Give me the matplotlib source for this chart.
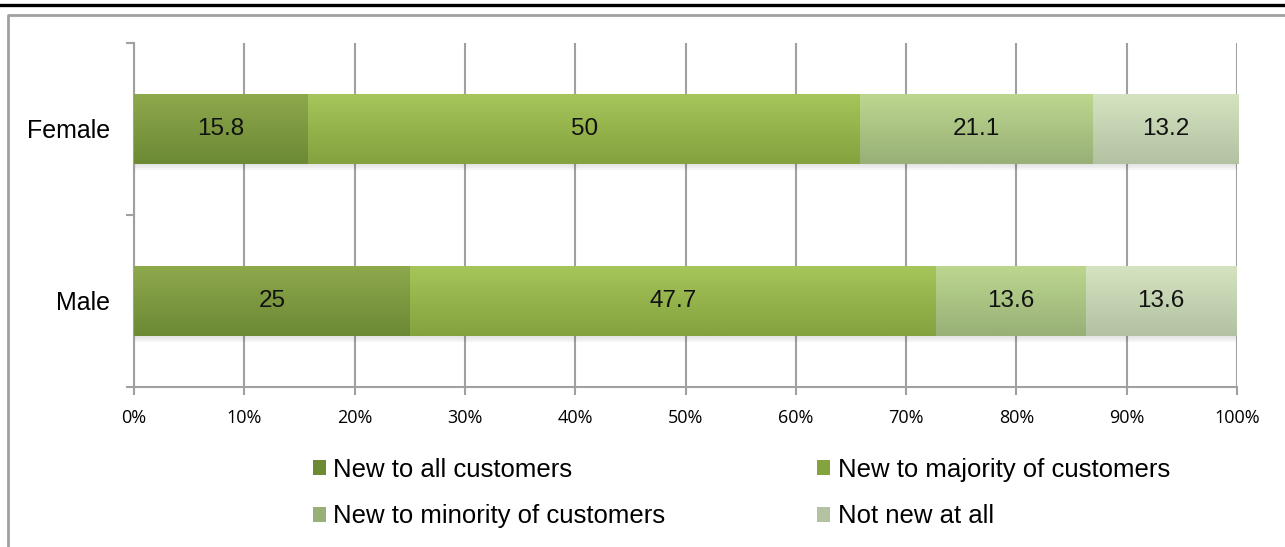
import numpy as np
import matplotlib.pyplot as plt
from matplotlib.colors import LinearSegmentedColormap
from matplotlib.lines import Line2D
from matplotlib.patches import Rectangle

groups = ["Male", "Female"]
series = ["New to all customers", "New to majority of customers",
          "New to minority of customers", "Not new at all"]
new_all = [25.0, 15.8]
new_majority = [47.7, 50.0]
new_minority = [13.6, 21.1]
not_new = [13.6, 13.2]

# top / bottom colours of each segment's vertical gradient
shades = [("#8ea84c", "#6c8934"),
          ("#a6c55a", "#84a23e"),
          ("#bdd78f", "#98b077"),
          ("#d5e3c0", "#b2c2a2")]

plt.rcParams["font.family"] = ["Liberation Sans", "DejaVu Sans"]

fig = plt.figure(figsize=(12.85, 5.47), dpi=100)
ax = fig.add_axes([0.1043, 0.2925, 0.8584, 0.629])

# page decorations: heavy rule on top, gray frame around the chart
fig.add_artist(Line2D([0, 1], [1 - 5 / 547] * 2, color="black", lw=2.4,
                      transform=fig.transFigure))
fig.add_artist(Line2D([8 / 1285, 8 / 1285, 1], [0, 1 - 15 / 547, 1 - 15 / 547],
                      color="#a0a0a0", lw=2, transform=fig.transFigure))

ypos = np.arange(len(groups))
bar_h = 0.41
grad = np.linspace(0, 1, 64).reshape(-1, 1)

left = np.zeros(len(groups))
for vals, (top, bottom), name in zip([new_all, new_majority, new_minority, not_new],
                                     shades, series):
    vals = np.array(vals)
    bars = ax.barh(ypos, vals, left=left, height=bar_h, color=bottom,
                   label=name, zorder=3)
    cmap = LinearSegmentedColormap.from_list(name, [top, bottom])
    for b, v in zip(bars, vals):
        x0, y0 = b.get_x(), b.get_y()
        # soft shadow under each segment
        for k, a in enumerate([0.10, 0.07, 0.04]):
            ax.add_patch(Rectangle((x0, y0 - 0.012 * (k + 1)), b.get_width(), 0.012,
                                   color="black", alpha=a, lw=0, zorder=2.5))
        im = ax.imshow(grad, cmap=cmap, aspect="auto", zorder=3.5,
                       extent=[x0, x0 + b.get_width(), y0, y0 + b.get_height()],
                       origin="upper")
        im.set_clip_path(b)
        ax.text(x0 + b.get_width() / 2, y0 + b.get_height() / 2, f"{v:g}",
                ha="center", va="center", fontsize=17.5, color="#111111", zorder=5)
    left += vals

ax.set_xlim(0, 100)
ax.set_ylim(-0.5, len(groups) - 0.5)
ax.set_xticks(np.arange(0, 101, 10))
ax.set_xticklabels([f"{t}%" for t in range(0, 101, 10)], fontsize=13,
                   family=["Open Sans", "DejaVu Sans"])
ax.set_yticks(ypos)
ax.set_yticklabels(groups, fontsize=18)
ax.set_yticks(np.arange(-0.5, len(groups), 1), minor=True)
ax.tick_params(axis="y", which="major", length=0, pad=17)
ax.tick_params(axis="y", which="minor", length=6, color="#a0a0a0", width=1.5)
ax.tick_params(axis="x", length=6, color="#a0a0a0", width=1.5, pad=10)
ax.grid(axis="x", color="#a0a0a0", lw=1.5, zorder=0)
ax.set_axisbelow(True)
for s in ["top", "right"]:
    ax.spines[s].set_visible(False)
for s in ["left", "bottom"]:
    ax.spines[s].set_color("#a0a0a0")
    ax.spines[s].set_linewidth(1.5)

# legend fills column-wise, so order entries to read row by row
handles, labels = ax.get_legend_handles_labels()
order = [0, 2, 1, 3]
leg = fig.legend([handles[i] for i in order], [labels[i] for i in order],
                 ncol=2, loc="upper left", bbox_to_anchor=(0.2335, 0.1865),
                 frameon=False, fontsize=18.5, borderpad=0,
                 handlelength=0.5, handleheight=0.5, handletextpad=0.3,
                 columnspacing=5.9, labelspacing=0.88)

fig.savefig("out.png", dpi=100)
